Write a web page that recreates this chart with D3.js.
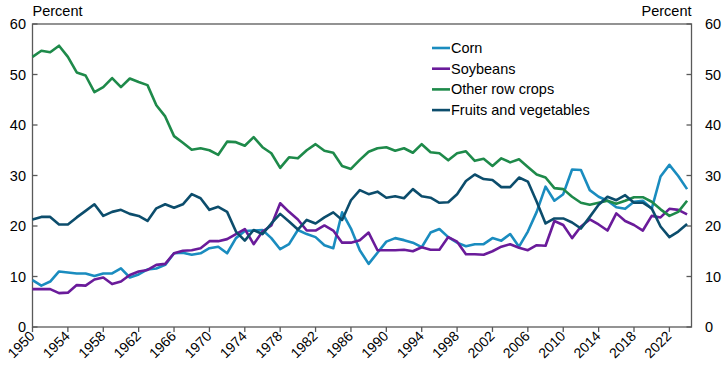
<!DOCTYPE html>
<html><head><meta charset="utf-8">
<script src="https://cdn.jsdelivr.net/npm/d3@7"></script>
<style>body{margin:0;background:#fff}svg{display:block}text{font-family:"Liberation Sans",Arial,sans-serif;fill:#000}</style>
</head><body><svg id="c" width="725" height="379"></svg>
<script>
const years = d3.range(1950, 2025);
const corn = [9.3,8.2,9.0,11.0,10.8,10.6,10.6,10.1,10.6,10.6,11.6,9.8,10.4,11.4,11.6,12.3,14.6,14.7,14.3,14.6,15.6,15.9,14.6,17.6,19.0,19.1,19.2,17.6,15.4,16.4,19.2,18.4,17.8,16.2,15.6,22.7,19.5,15.2,12.5,14.7,16.9,17.6,17.2,16.7,15.8,18.7,19.4,17.8,16.7,16.0,16.4,16.4,17.6,17.1,18.4,15.9,18.9,22.8,27.8,25.0,26.3,31.2,31.1,27.1,25.8,25.0,23.7,23.4,24.8,25.0,23.4,29.8,32.1,29.9,27.3];
const soybeans = [7.5,7.5,7.5,6.7,6.8,8.3,8.2,9.4,9.8,8.5,9.0,10.3,11.0,11.3,12.3,12.5,14.6,15.1,15.2,15.6,17.0,17.0,17.4,18.4,19.4,16.4,18.9,20.1,24.5,22.8,21.3,19.1,19.1,20.1,19.1,16.7,16.7,17.2,18.7,15.2,15.2,15.2,15.3,15.0,15.8,15.3,15.3,17.8,16.9,14.4,14.4,14.3,15.0,15.9,16.4,15.7,15.2,16.2,16.1,21.0,20.2,17.6,19.9,21.3,20.3,19.1,22.5,21.0,20.2,19.1,22.0,21.7,23.4,23.2,22.3];
const otherRowCrops = [53.5,54.7,54.4,55.7,53.5,50.4,49.8,46.5,47.5,49.3,47.5,49.2,48.5,47.9,43.9,41.7,37.8,36.5,35.1,35.4,35.0,34.1,36.7,36.6,35.9,37.6,35.6,34.4,31.5,33.6,33.4,35.0,36.2,34.9,34.5,31.9,31.3,33.1,34.7,35.4,35.6,34.9,35.4,34.5,36.2,34.6,34.4,33.0,34.4,34.8,32.9,33.3,31.9,33.4,32.6,33.2,31.7,30.2,29.6,27.5,27.3,25.8,24.6,24.2,24.6,25.0,24.4,25.0,25.7,25.7,24.8,23.3,22.0,22.8,25.0];
const fruitsVeg = [21.3,21.8,21.8,20.3,20.3,21.7,23.0,24.3,22.0,22.8,23.2,22.4,22.0,21.0,23.5,24.3,23.6,24.3,26.3,25.5,23.2,23.8,22.8,18.9,17.1,19.2,18.4,20.5,22.4,20.9,19.3,21.2,20.5,21.7,22.7,21.2,25.1,27.1,26.3,26.8,25.6,25.9,25.5,27.3,25.9,25.6,24.6,24.7,26.3,28.9,30.2,29.3,29.1,27.7,27.7,29.6,28.8,24.8,20.5,21.5,21.5,20.7,19.5,21.8,24.2,25.8,25.1,26.1,24.6,24.6,23.5,19.9,17.8,18.9,20.4];
const seriesNames = ["Corn","Soybeans","Other row crops","Fruits and vegetables"];
const seriesColors = ["#1a8cbf","#6a1b9a","#1e8a4a","#0c4d6c"];
const xTicks = d3.range(1950, 2023, 4);
const yTicks = [0,10,20,30,40,50,60];
const seriesData = [corn, soybeans, otherRowCrops, fruitsVeg];

const svg = d3.select("#c");
const L = 32.5, R = 691.5, T = 24, B = 327;
const x = d3.scaleLinear().domain([1950, 2024.5]).range([L, R]);
const y = d3.scaleLinear().domain([0, 60]).range([B, T]);
const axisColor = "#595959";

// frame
svg.append("rect").attr("x", L).attr("y", T).attr("width", R - L).attr("height", B - T)
  .attr("fill", "none").attr("stroke", axisColor).attr("stroke-width", 1.3);

// y ticks and labels
yTicks.forEach(v => {
  svg.append("line").attr("x1", L).attr("x2", L + 5).attr("y1", y(v)).attr("y2", y(v)).attr("stroke", axisColor).attr("stroke-width", 1.3);
  svg.append("line").attr("x1", R - 5).attr("x2", R).attr("y1", y(v)).attr("y2", y(v)).attr("stroke", axisColor).attr("stroke-width", 1.3);
  svg.append("text").attr("x", 26).attr("y", y(v) + 5).attr("text-anchor", "end").attr("font-size", 14.5).text(v);
  svg.append("text").attr("x", 705).attr("y", y(v) + 5).attr("text-anchor", "start").attr("font-size", 14.5).text(v);
});
svg.append("text").attr("x", L).attr("y", 16).attr("font-size", 14.5).text("Percent");
svg.append("text").attr("x", R).attr("y", 16).attr("text-anchor", "end").attr("font-size", 14.5).text("Percent");

// x ticks and labels
xTicks.forEach(t => {
  svg.append("line").attr("x1", x(t)).attr("x2", x(t)).attr("y1", B).attr("y2", B + 5).attr("stroke", axisColor).attr("stroke-width", 1.3);
  svg.append("text").attr("transform", `translate(${x(t) + 3},${B + 10}) rotate(-45)`)
    .attr("text-anchor", "end").attr("font-size", 14).text(t);
});

// lines
const line = d3.line().x((d, i) => x(years[i])).y(d => y(d));
seriesData.forEach((s, k) => {
  svg.append("path").datum(s).attr("d", line).attr("fill", "none")
    .attr("stroke", seriesColors[k]).attr("stroke-width", 2.6).attr("stroke-linejoin", "round");
});

// legend
seriesNames.forEach((n, k) => {
  const ly = 48 + k * 20.7;
  svg.append("line").attr("x1", 432).attr("x2", 450).attr("y1", ly).attr("y2", ly).attr("stroke", seriesColors[k]).attr("stroke-width", 2.6);
  svg.append("text").attr("x", 451).attr("y", ly + 5).attr("font-size", 14.5).text(n);
});
</script></body></html>
